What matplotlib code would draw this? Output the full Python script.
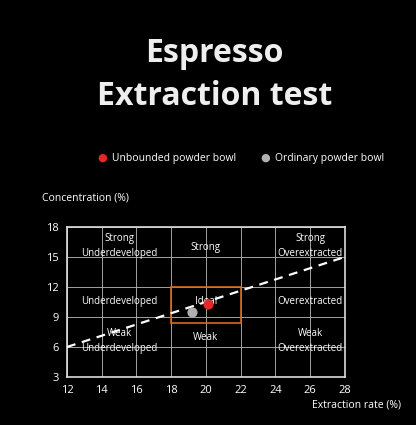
import matplotlib
matplotlib.use("Agg")
import matplotlib.pyplot as plt
from matplotlib.patches import Rectangle

plt.rcParams["font.family"] = ["Open Sans", "DejaVu Sans"]

# данные
x_ticks = [12, 14, 16, 18, 20, 22, 24, 26, 28]
y_ticks = [3, 6, 9, 12, 15, 18]
ideal_box = (18, 8.4, 4, 3.6)  # x, y, w, h
trend_x = [12, 28]
trend_y = [6, 15]
unbounded = (20.1, 10.3)
ordinary = (19.2, 9.5)
zones = [
    (15, 16.1, "Strong\nUnderdeveloped"), (20, 15.9, "Strong"), (26, 16.1, "Strong\nOverextracted"),
    (15, 10.5, "Underdeveloped"), (20, 10.5, "Ideal"), (26, 10.5, "Overextracted"),
    (15, 6.6, "Weak\nUnderdeveloped"), (20, 6.9, "Weak"), (26, 6.6, "Weak\nOverextracted"),
]

fig = plt.figure(figsize=(4.16, 4.25), dpi=100, facecolor="black")
ax = fig.add_axes([0.161, 0.113, 0.668, 0.353], facecolor="black")

fig.text(0.515, 0.873, "Espresso", color="#eeeeee", fontsize=23, fontweight="bold", ha="center", va="center")
fig.text(0.515, 0.772, "Extraction test", color="#eeeeee", fontsize=23, fontweight="bold", ha="center", va="center")

# легенда
fig.text(0.245, 0.628, "●", color="#e8262a", fontsize=8, ha="center", va="center")
fig.text(0.27, 0.628, "Unbounded powder bowl", color="white", fontsize=7.5, va="center")
fig.text(0.637, 0.628, "●", color="#b0b0b0", fontsize=8, ha="center", va="center")
fig.text(0.662, 0.628, "Ordinary powder bowl", color="white", fontsize=7.5, va="center")

ax.set_xlim(12, 28)
ax.set_ylim(3, 18)
ax.set_xticks(x_ticks)
ax.set_yticks(y_ticks)
ax.grid(True, color="#bbbbbb", lw=0.6)
ax.tick_params(colors="white", labelsize=8, length=0, pad=6)
for s in ax.spines.values():
    s.set_color("#dddddd")
    s.set_linewidth(1.2)

ax.add_patch(Rectangle(ideal_box[:2], ideal_box[2], ideal_box[3], fill=False, ec="#d46a1e", lw=1.2, zorder=3))
ax.plot(trend_x, trend_y, "--", color="white", lw=1.6, dashes=(4, 3), zorder=4)
for x, y, t in zones:
    ax.text(x, y, t, color="white", fontsize=7, ha="center", va="center", linespacing=1.5, zorder=5)
ax.scatter(*ordinary, s=40, color="#b0b0b0", zorder=6)
ax.scatter(*unbounded, s=40, color="#e8262a", zorder=6)

fig.text(0.1, 0.535, "Concentration (%)", color="white", fontsize=7.5, va="center")
fig.text(0.965, 0.047, "Extraction rate (%)", color="white", fontsize=7.5, ha="right", va="center")

fig.savefig("out.png", dpi=100, facecolor="black")
